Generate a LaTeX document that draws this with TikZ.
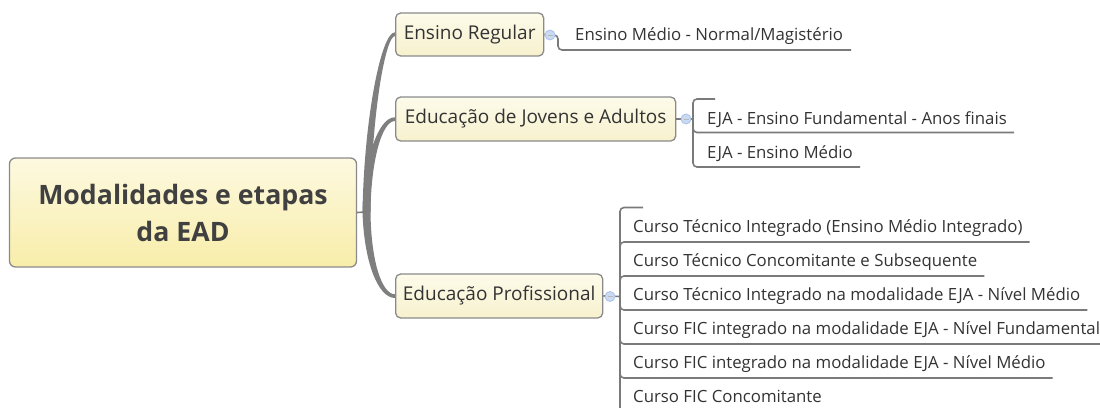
\documentclass[tikz,border=0pt]{standalone}
\usepackage{fontspec}
\setmainfont{Open Sans}
\definecolor{lngray}{HTML}{7A7A7A}
\definecolor{boxgray}{HTML}{8A8A8A}
\definecolor{trunk}{HTML}{7F7F7F}
\definecolor{txt}{HTML}{333333}
\definecolor{roottxt}{HTML}{404040}
\definecolor{rtop}{HTML}{FDF9E0}
\definecolor{rbot}{HTML}{F8EDA9}
\definecolor{ttop}{HTML}{FDFBEA}
\definecolor{tbot}{HTML}{F7F1CE}
\definecolor{knobfill}{HTML}{CADAF3}
\definecolor{knobdraw}{HTML}{A9C1E8}
\begin{document}
\begin{tikzpicture}[x=1pt,y=-1pt,
  rootbox/.style={draw=boxgray,line width=1.3pt,rounded corners=6pt,top color=rtop,bottom color=rbot,
    text=roottxt,font=\fontsize{26.7}{37}\selectfont\bfseries,align=center,inner sep=0pt},
  topic/.style={draw=boxgray,line width=1.3pt,rounded corners=5pt,top color=ttop,bottom color=tbot,
    text=txt,font=\fontsize{19}{22}\selectfont,inner sep=0pt,anchor=west},
  sub/.style={anchor=base west,inner sep=0pt,text=txt,font=\fontsize{16.8}{20}\selectfont},
  edge/.style={draw=lngray,line width=1.6pt,rounded corners=4pt},
  knob/.style={circle,minimum size=10pt,inner sep=0pt,fill=knobfill,draw=knobdraw,line width=0.8pt},
  knobminus/.style={draw=boxgray!60,line width=0.8pt},
  branch/.style={fill=trunk,draw=none}]
\useasboundingbox (0,0) rectangle (1100,407);
\clip (0,0) rectangle (1100,407);

% trunk branches (tapered)
\fill[branch] (362.5,212) .. controls (364,120) and (381,32) .. (395,32.3)
  -- (395,36) .. controls (385,36) and (371,120) .. (370.5,212) -- cycle;
\fill[branch] (362.5,212) .. controls (364,160) and (378,117) .. (395,117.3)
  -- (395,121) .. controls (382,121) and (371,160) .. (370.5,212) -- cycle;
\fill[branch] (362.5,212) .. controls (364,262) and (378,298) .. (395,298)
  -- (395,294.3) .. controls (382,294.3) and (371,262) .. (370.5,212) -- cycle;

% nodes
\node[rootbox,minimum width=347pt,minimum height=109pt] (root) at (183,212.5) {Modalidades e etapas\\da EAD};
\node[topic,minimum width=148pt,minimum height=43pt] (reg) at (395,34.5) {Ensino Regular};
\node[topic,minimum width=280pt,minimum height=44pt] (eja) at (395,119) {Educação de Jovens e Adultos};
\node[topic,minimum width=207pt,minimum height=44pt] (prof) at (395,296) {Educação Profissional};

\coordinate (tj) at (366.5,212);
\draw[edge] (root.east) -- (tj);

\node[sub] (r1) at (575,40.5) {Ensino Médio - Normal/Magistério};
\node[sub] (e1) at (707,124) {EJA - Ensino Fundamental - Anos finais};
\node[sub] (e2) at (707,158.5) {EJA - Ensino Médio};
\node[sub] (p1) at (633,232.5) {Curso Técnico Integrado (Ensino Médio Integrado)};
\node[sub] (p2) at (633,266.5) {Curso Técnico Concomitante e Subsequente};
\node[sub] (p3) at (633,300.5) {Curso Técnico Integrado na modalidade EJA - Nível Médio};
\node[sub] (p4) at (633,334.5) {Curso FIC integrado na modalidade EJA - Nível Fundamental};
\node[sub] (p5) at (633,368.5) {Curso FIC integrado na modalidade EJA - Nível Médio};
\node[sub] (p6) at (633,402.5) {Curso FIC Concomitante};

% Ensino Regular
\draw[edge] (reg.east) -- (550,35);
\draw[edge] (550,35) -- (558,35) |- ([shift={(8,9.5)}]r1.base east);
\node[knob] (k1) at (550,35) {};
\draw[knobminus] ([xshift=-2.5pt]k1.center) -- ([xshift=2.5pt]k1.center);

% EJA
\coordinate (ej) at (693,119);
\coordinate (es) at (715,99);
\draw[edge] (eja.east) -- (ej);
\draw[edge] (ej) |- (es);
\draw[edge] (ej) |- ([shift={(7,8.5)}]e1.base east);
\draw[edge] (ej) |- ([shift={(7,8.5)}]e2.base east);
\node[knob] (k2) at (686,119) {};
\draw[knobminus] ([xshift=-2.5pt]k2.center) -- ([xshift=2.5pt]k2.center);

% Profissional
\coordinate (pj) at (620,296.5);
\coordinate (ps) at (643,207.5);
\coordinate (pb) at (620,420);
\draw[edge] (prof.east) -- (pj);
\draw[edge] (pj) |- (ps);
\draw[edge] (pj) -- (pb);
\foreach \n in {p1,p2,p3,p4,p5}{
  \draw[edge] (pj) |- ([shift={(7,9.5)}]\n.base east);
}
\node[knob] (k3) at (610,296.5) {};
\draw[knobminus] ([xshift=-2.5pt]k3.center) -- ([xshift=2.5pt]k3.center);
\end{tikzpicture}
\end{document}
